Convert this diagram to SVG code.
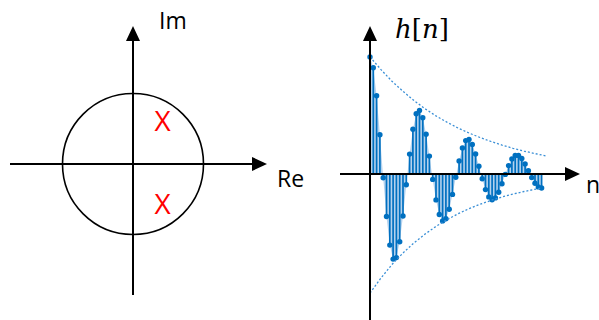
<svg xmlns="http://www.w3.org/2000/svg" width="599" height="320" viewBox="0 0 599 320">
<style>
.ax{stroke:#000;stroke-width:2;fill:none}
.ah{fill:#000}
.lbl{font-family:"Open Sans","Liberation Sans",sans-serif;font-size:23px;fill:#000}
.pole{font-family:"Open Sans","Liberation Sans",sans-serif;font-size:28px;fill:#FF0000}
.stem{stroke:#0070C0;stroke-width:1.7;fill:none}
.dot{fill:#0070C0}
.env{stroke:#3A8FD6;stroke-width:1.3;stroke-dasharray:2 2;fill:none}
</style>
<rect width="599" height="320" fill="#fff"/>
<g id="pz-plot">
  <circle cx="133" cy="164" r="70.5" fill="none" stroke="#000" stroke-width="1.6"/>
  <line class="ax" x1="133" y1="295" x2="133" y2="38"/>
  <polygon class="ah" points="133,26 126,41 140,41"/>
  <line class="ax" x1="10" y1="164" x2="255" y2="164"/>
  <polygon class="ah" points="267,164 252,157 252,171"/>
  <text class="lbl" x="159" y="29">Im</text>
  <text class="lbl" x="277" y="187">Re</text>
  <text class="pole" x="162.5" y="131" text-anchor="middle">X</text>
  <text class="pole" x="162.5" y="213.5" text-anchor="middle">X</text>
</g>
<g id="impulse-response">
  <path fill="#B4D2EE" d="M370 174 L370 57 373.3 67.7 376.6 95.7 379.9 134.8 383.2 177.7 386.5 216.5 389.8 245.1 393.1 259.1 396.4 257.6 399.7 241.8 403 216 406.3 184.7 409.6 154.1 412.9 129.3 416.2 113.8 419.5 110.4 422.8 117.8 426.1 134.2 429.4 156.1 432.7 179.4 436 199.9 439.3 214.5 442.6 220.9 445.9 218.8 449.2 209.3 452.5 194.4 455.8 177.3 459.1 160.9 462.4 147.9 465.7 140.6 469 139.5 472.3 144.4 475.6 154 478.9 166.2 482.2 178.8 485.5 189.6 488.8 196.9 492.1 199.7 495.4 197.9 498.7 192.2 502 183.7 505.3 174.4 508.6 165.6 511.9 159 515.2 155.5 518.5 155.4 521.8 158.5 525.1 164 528.4 170.8 531.7 177.6 535 183.2 538.3 186.9 541.6 188 541.6 174 Z"/>
  <path class="stem" d="M370 174V57M373.3 174V67.7M376.6 174V95.7M379.9 174V134.8M383.2 174V177.7M386.5 174V216.5M389.8 174V245.1M393.1 174V259.1M396.4 174V257.6M399.7 174V241.8M403 174V216M406.3 174V184.7M409.6 174V154.1M412.9 174V129.3M416.2 174V113.8M419.5 174V110.4M422.8 174V117.8M426.1 174V134.2M429.4 174V156.1M432.7 174V179.4M436 174V199.9M439.3 174V214.5M442.6 174V220.9M445.9 174V218.8M449.2 174V209.3M452.5 174V194.4M455.8 174V177.3M459.1 174V160.9M462.4 174V147.9M465.7 174V140.6M469 174V139.5M472.3 174V144.4M475.6 174V154M478.9 174V166.2M482.2 174V178.8M485.5 174V189.6M488.8 174V196.9M492.1 174V199.7M495.4 174V197.9M498.7 174V192.2M502 174V183.7M505.3 174V174.4M508.6 174V165.6M511.9 174V159M515.2 174V155.5M518.5 174V155.4M521.8 174V158.5M525.1 174V164M528.4 174V170.8M531.7 174V177.6M535 174V183.2M538.3 174V186.9M541.6 174V188"/>
  <g class="dot">
    <circle cx="370" cy="57" r="2.7"/><circle cx="373.3" cy="67.7" r="2.7"/><circle cx="376.6" cy="95.7" r="2.7"/><circle cx="379.9" cy="134.8" r="2.7"/><circle cx="383.2" cy="177.7" r="2.7"/><circle cx="386.5" cy="216.5" r="2.7"/><circle cx="389.8" cy="245.1" r="2.7"/><circle cx="393.1" cy="259.1" r="2.7"/><circle cx="396.4" cy="257.6" r="2.7"/><circle cx="399.7" cy="241.8" r="2.7"/><circle cx="403" cy="216" r="2.7"/><circle cx="406.3" cy="184.7" r="2.7"/><circle cx="409.6" cy="154.1" r="2.7"/><circle cx="412.9" cy="129.3" r="2.7"/><circle cx="416.2" cy="113.8" r="2.7"/><circle cx="419.5" cy="110.4" r="2.7"/><circle cx="422.8" cy="117.8" r="2.7"/><circle cx="426.1" cy="134.2" r="2.7"/><circle cx="429.4" cy="156.1" r="2.7"/><circle cx="432.7" cy="179.4" r="2.7"/><circle cx="436" cy="199.9" r="2.7"/><circle cx="439.3" cy="214.5" r="2.7"/><circle cx="442.6" cy="220.9" r="2.7"/><circle cx="445.9" cy="218.8" r="2.7"/><circle cx="449.2" cy="209.3" r="2.7"/><circle cx="452.5" cy="194.4" r="2.7"/><circle cx="455.8" cy="177.3" r="2.7"/><circle cx="459.1" cy="160.9" r="2.7"/><circle cx="462.4" cy="147.9" r="2.7"/><circle cx="465.7" cy="140.6" r="2.7"/><circle cx="469" cy="139.5" r="2.7"/><circle cx="472.3" cy="144.4" r="2.7"/><circle cx="475.6" cy="154" r="2.7"/><circle cx="478.9" cy="166.2" r="2.7"/><circle cx="482.2" cy="178.8" r="2.7"/><circle cx="485.5" cy="189.6" r="2.7"/><circle cx="488.8" cy="196.9" r="2.7"/><circle cx="492.1" cy="199.7" r="2.7"/><circle cx="495.4" cy="197.9" r="2.7"/><circle cx="498.7" cy="192.2" r="2.7"/><circle cx="502" cy="183.7" r="2.7"/><circle cx="505.3" cy="174.4" r="2.7"/><circle cx="508.6" cy="165.6" r="2.7"/><circle cx="511.9" cy="159" r="2.7"/><circle cx="515.2" cy="155.5" r="2.7"/><circle cx="518.5" cy="155.4" r="2.7"/><circle cx="521.8" cy="158.5" r="2.7"/><circle cx="525.1" cy="164" r="2.7"/><circle cx="528.4" cy="170.8" r="2.7"/><circle cx="531.7" cy="177.6" r="2.7"/><circle cx="535" cy="183.2" r="2.7"/><circle cx="538.3" cy="186.9" r="2.7"/><circle cx="541.6" cy="188" r="2.7"/>
  </g>
  <polyline class="env" points="370,57 381,69.6 392,81.3 403,91.3 414,100.6 425,108.7 436,115.9 447,122.2 458,128 469,133 480,137.5 491,141.5 502,145.1 513,148.3 524,151.1 535,153.6 547,156.1"/>
  <polyline class="env" points="370,293 381,278 392,264.5 403,253 414,242.8 425,234.1 436,226.4 447,219.7 458,213.8 469,208.7 480,204.3 491,200.4 502,197 513,194.1 524,191.5 533,189.7 542,188"/>
  <line class="ax" x1="370" y1="320" x2="370" y2="38"/>
  <polygon class="ah" points="370,26 363,41 377,41"/>
  <line class="ax" x1="340" y1="174" x2="568" y2="174"/>
  <polygon class="ah" points="580,174 565,167 565,181"/>
  <text x="395" y="38" font-family="'DejaVu Serif',serif" font-size="26" fill="#000"><tspan font-style="italic">h</tspan>[<tspan font-style="italic">n</tspan>]</text>
  <text class="lbl" x="586" y="193">n</text>
</g>
</svg>
